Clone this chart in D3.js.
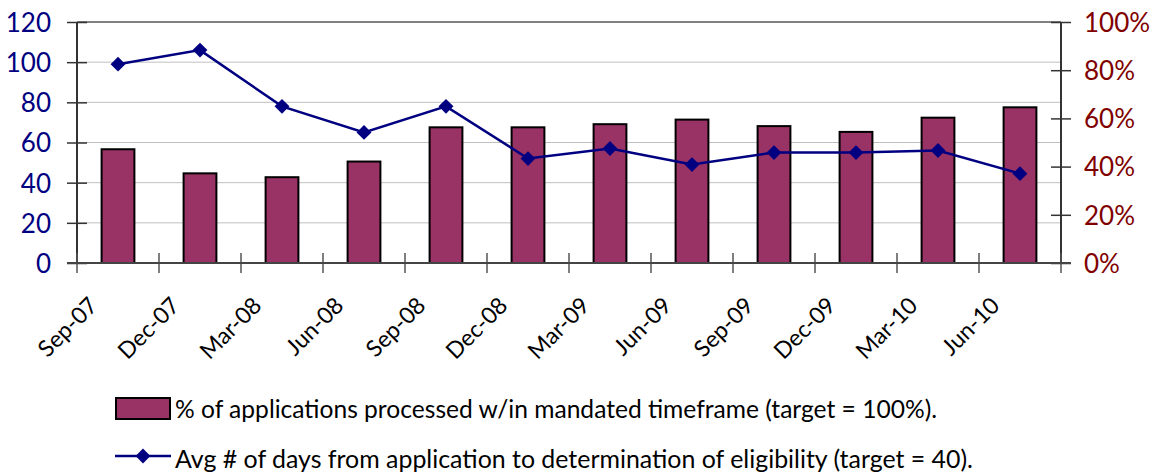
<!DOCTYPE html>
<html>
<head>
<meta charset="utf-8">
<script src="https://cdn.jsdelivr.net/npm/d3@7"></script>
<style>
  body { margin: 0; background: #fff; }
  svg text { font-family: Lato, "Open Sans", sans-serif; }
</style>
</head>
<body>
<div id="chart"></div>
<script>
// quarters on the category axis
var quarters = ["Sep-07", "Dec-07", "Mar-08", "Jun-08", "Sep-08", "Dec-08",
                "Mar-09", "Jun-09", "Sep-09", "Dec-09", "Mar-10", "Jun-10"];
// % of applications processed within mandated timeframe (right axis)
var pctProcessed = [47.2, 37.2, 35.6, 42.1, 56.3, 56.3, 57.6, 59.5, 56.8, 54.4, 60.3, 64.6];
// avg # of days from application to determination (left axis)
var avgDays = [99, 106, 78, 65, 78, 52, 57, 49, 55, 55, 56, 44.5];
var leftTicks = [0, 20, 40, 60, 80, 100, 120];
var rightTicks = [0, 20, 40, 60, 80, 100];
var legendLabels = ["% of applications processed w/in mandated timeframe (target = 100%).",
                    "Avg # of days from application to determination of eligibility (target = 40)."];

var W = 1152, H = 473;
var o = {left: 77, right: 1061, top: 22, bottom: 263};

var svg = d3.select("#chart").append("svg")
    .attr("width", W)
    .attr("height", H);

var x = d3.scaleBand().domain(quarters).range([o.left, o.right]),
    yL = d3.scaleLinear().domain([0, 120]).range([o.bottom, o.top]),
    yR = d3.scaleLinear().domain([0, 100]).range([o.bottom, o.top]);

// gridlines
svg.append("g").selectAll("line.grid")
    .data(leftTicks.filter(function (d) { return d > 0; }))
    .enter().append("line")
    .attr("x1", o.left).attr("x2", o.right)
    .attr("y1", function (d) { return yL(d); })
    .attr("y2", function (d) { return yL(d); })
    .style("stroke", function (d) { return d === 120 ? "#808080" : "#c0c0c0"; })
    .style("stroke-width", function (d) { return d === 120 ? 2 : 1; });

// bars
svg.append("g").selectAll("rect")
    .data(pctProcessed)
    .enter().append("rect")
    .attr("x", function (d, i) { return x(quarters[i]) + x.bandwidth() * 0.3; })
    .attr("width", x.bandwidth() * 0.4)
    .attr("y", function (d) { return yR(d); })
    .attr("height", function (d) { return yR(0) - yR(d); })
    .style("fill", "#993366")
    .style("stroke", "#000")
    .style("stroke-width", 2);

// left axis
var gL = svg.append("g")
    .attr("transform", "translate(" + o.left + ",0)")
    .call(d3.axisLeft(yL).tickValues(leftTicks).tickSize(10).tickPadding(0));
gL.select(".domain").remove();
gL.selectAll(".tick line").attr("x1", -10).attr("x2", 10).style("stroke", "#333").style("stroke-width", 1.5);
gL.selectAll(".tick text")
    .attr("x", -26)
    .attr("dy", "0.36em")
    .style("font-size", "26px")
    .style("fill", "#000080");
svg.append("line")
    .attr("x1", o.left).attr("x2", o.left)
    .attr("y1", o.top).attr("y2", o.bottom)
    .style("stroke", "#333").style("stroke-width", 2);

// right axis
var gR = svg.append("g")
    .attr("transform", "translate(" + o.right + ",0)")
    .call(d3.axisRight(yR).tickValues(rightTicks).tickSize(10)
        .tickFormat(function (d) { return d + "%"; }));
gR.select(".domain").remove();
gR.selectAll(".tick line").attr("x1", -10).attr("x2", 10).style("stroke", "#333").style("stroke-width", 1.5);
gR.selectAll(".tick text")
    .attr("x", 23)
    .attr("dy", "0.36em")
    .style("font-size", "26px")
    .style("fill", "#800000");
svg.append("line")
    .attr("x1", o.right).attr("x2", o.right)
    .attr("y1", o.top).attr("y2", o.bottom)
    .style("stroke", "#333").style("stroke-width", 2);

// category axis: ticks at band edges
var edges = d3.range(quarters.length + 1).map(function (i) { return o.left + i * x.step(); });
svg.append("g").selectAll("line")
    .data(edges)
    .enter().append("line")
    .attr("x1", function (d) { return d; }).attr("x2", function (d) { return d; })
    .attr("y1", o.bottom - 10).attr("y2", o.bottom + 10)
    .style("stroke", "#555").style("stroke-width", 1.5);
svg.append("line")
    .attr("x1", o.left - 10).attr("x2", o.right + 10)
    .attr("y1", o.bottom).attr("y2", o.bottom)
    .style("stroke", "#444").style("stroke-width", 2);

svg.append("g").selectAll("text")
    .data(quarters)
    .enter().append("text")
    .attr("transform", function (d) {
        return "translate(" + (x(d) + x.bandwidth() / 2 - 19) + "," + 307 + ") rotate(-45)";
    })
    .attr("text-anchor", "end")
    .style("font-size", "23px")
    .style("fill", "#000")
    .text(function (d) { return d; });

// line series
var line = d3.line()
    .x(function (d, i) { return x(quarters[i]) + x.bandwidth() / 2; })
    .y(function (d) { return yL(d); });

svg.append("path")
    .datum(avgDays)
    .attr("d", line)
    .style("fill", "none")
    .style("stroke", "#000080")
    .style("stroke-width", 2.5);

var diamond = d3.symbol().type(d3.symbolDiamond2).size(140);
svg.append("g").selectAll("path")
    .data(avgDays)
    .enter().append("path")
    .attr("d", diamond)
    .attr("transform", function (d, i) {
        return "translate(" + (x(quarters[i]) + x.bandwidth() / 2) + "," + yL(d) + ")";
    })
    .style("fill", "#000080");

// legend
var lg = svg.append("g");
lg.append("rect")
    .attr("x", 116).attr("y", 398).attr("width", 54).attr("height", 21)
    .style("fill", "#993366").style("stroke", "#000").style("stroke-width", 2);
lg.append("line")
    .attr("x1", 115).attr("x2", 171).attr("y1", 456).attr("y2", 456)
    .style("stroke", "#000080").style("stroke-width", 2.5);
lg.append("path")
    .attr("d", diamond)
    .attr("transform", "translate(143,456)")
    .style("fill", "#000080");
lg.selectAll("text")
    .data(legendLabels)
    .enter().append("text")
    .attr("x", 175)
    .attr("y", function (d, i) { return 418 + i * 50; })
    .attr("textLength", function (d, i) { return i === 0 ? 762 : 798; })
    .attr("lengthAdjust", "spacingAndGlyphs")
    .style("font-size", "25px")
    .style("fill", "#000")
    .text(function (d) { return d; });
</script>
</body>
</html>
